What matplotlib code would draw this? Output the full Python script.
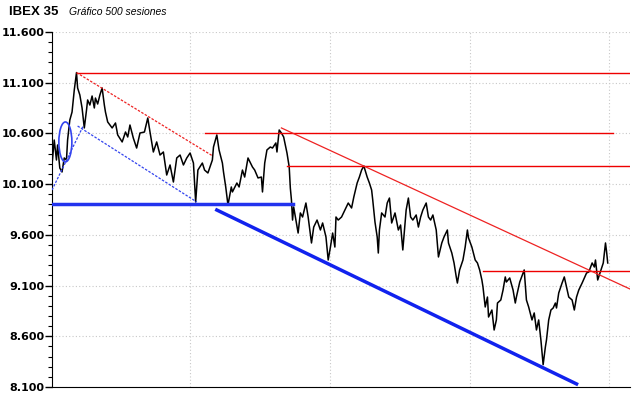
import matplotlib
matplotlib.use("Agg")
import matplotlib.pyplot as plt
from matplotlib.patches import Ellipse
from matplotlib.ticker import MultipleLocator, FuncFormatter

# ---- data ----
sessions = [0,2,4,5,7,9,11,13,14,16,18,20,22,23,25,27,29,31,32,34,36,38,39,41,43,45,47,48,50,54,
            57,59,63,66,68,70,73,76,79,83,86,88,91,94,97,100,103,106,109,112,115,118,121,124,127,129,131,135,137,140,
            144,145,148,150,153,154,156,158,161,162,166,168,171,173,176,180,182,185,188,189,191,193,196,198,201,202,204,206,208,211,
            213,214,215,216,217,219,221,223,225,228,230,233,235,238,241,243,246,248,250,252,254,255,257,260,263,266,269,271,274,276,
            278,280,283,285,287,288,290,292,293,294,296,299,301,303,305,308,311,313,315,318,320,322,324,327,329,331,333,336,338,340,
            342,345,346,347,350,352,355,356,359,361,363,364,366,369,371,373,374,377,380,382,384,386,387,389,391,392,395,397,399,400,
            403,405,407,408,411,414,416,417,420,423,424,426,428,431,433,435,437,439,441,443,444,446,448,450,452,453,455,458,460,462,
            464,467,469,471,473,476,478,480,482,485,487,488,490,493,495,496,497,498,499]
closes = [10289,10535,10338,10486,10259,10220,10358,10338,10535,10732,10811,11028,11200,11048,10979,10851,10654,10831,10930,10880,
          10969,10851,10949,10890,10979,11048,10880,10811,10713,10654,10703,10585,10516,10614,10565,10683,10555,10456,10604,10614,
          10752,10614,10417,10516,10387,10417,10190,10289,10121,10358,10387,10289,10358,10407,10308,9924,10239,10308,10239,10210,
          10338,10466,10585,10437,10308,10220,10072,9894,10072,10023,10111,10072,10239,10170,10358,10269,10239,10161,10170,10023,
          10308,10437,10466,10456,10506,10417,10634,10604,10565,10407,10269,10062,9944,9746,9875,9746,9618,9816,9776,9914,
          9776,9520,9677,9746,9648,9717,9579,9352,9480,9618,9480,9776,9746,9776,9845,9914,9865,9973,10111,10170,
          10239,10279,10170,10111,10042,9944,9727,9579,9421,9648,9816,9776,9914,9963,9717,9816,9648,9697,9451,9845,
          9963,9776,9746,9796,9677,9776,9845,9914,9776,9746,9796,9648,9520,9382,9520,9579,9648,9520,9421,9323,
          9185,9125,9254,9352,9480,9648,9569,9480,9352,9323,9254,9155,9086,8889,8987,8790,8859,8662,8761,8928,
          8958,9056,9185,9135,9175,9056,8928,8987,9135,9224,9254,8958,8889,8761,8830,8662,8761,8563,8320,8494,
          8563,8761,8859,8879,8928,8879,9027,9125,9185,9086,8987,8958,8859,8987,9056,9125,9175,9224,9234,9323,
          9283,9352,9155,9254,9323,9421,9520,9431,9323]

y_ticks = [8100, 8600, 9100, 9600, 10100, 10600, 11100, 11600]
x_grid = [124, 249.5, 375, 500]

# support / resistance levels
red_levels = [(22, 519, 11200), (137, 504, 10600), (211, 519, 10280), (387, 519, 9245)]
red_trend = ([206, 519], [10654, 9066])
red_dash = ([22, 144], [11200, 10380])
blue_level = ([0, 216], [9900, 9900])
blue_trend = ([148, 471], [9845, 8130])
blue_dash1 = ([0, 28], [10042, 10673])
blue_dash2 = ([23, 130], [10673, 9924])

fig = plt.figure(figsize=(6.4, 3.98), dpi=100)
ax = fig.add_axes([52/640, 11/398, 578/640, 355/398])

ax.set_xlim(0, 519)
ax.set_ylim(8100, 11600)

ax.set_yticks(y_ticks)
ax.yaxis.set_minor_locator(MultipleLocator(100))
ax.yaxis.set_major_formatter(FuncFormatter(lambda v, p: f"{int(v):,}".replace(",", ".")))
ax.set_xticks(x_grid)
ax.set_xticklabels([])
ax.tick_params(axis='x', length=0)
ax.tick_params(axis='y', which='major', length=5, width=1, pad=0.5, labelsize=8)
ax.tick_params(axis='y', which='minor', length=3, width=0.8)
for lab in ax.get_yticklabels():
    lab.set_fontweight('bold')
    lab.set_family('DejaVu Sans')

ax.grid(True, which='major', color='#c8c8c8', linestyle=(0, (1, 2)), linewidth=0.8)
for s in ['top', 'right']:
    ax.spines[s].set_visible(False)

# price
ax.plot(sessions, closes, color='black', linewidth=1.1, zorder=3)

# lines
for x0, x1, lvl in red_levels:
    ax.plot([x0, x1], [lvl, lvl], color='#ee0000', linewidth=1.0, zorder=4)
ax.plot(*red_trend, color='#ee2222', linewidth=0.9, zorder=4)
ax.plot(*red_dash, color='#ee2222', linewidth=0.9, linestyle=(0, (2, 1.2)), zorder=4)
ax.plot(*blue_level, color='#2233ee', linewidth=2.5, zorder=4)
ax.plot(*blue_trend, color='#1122ee', linewidth=2.5, zorder=4)
ax.plot(*blue_dash1, color='#3344ee', linewidth=0.9, linestyle=(0, (2, 1.2)), zorder=4)
ax.plot(*blue_dash2, color='#3344ee', linewidth=0.9, linestyle=(0, (2, 1.2)), zorder=4)
ax.add_patch(Ellipse((12, 10516), 11.7, 394, fill=False, edgecolor='#3344ee', linewidth=1.2, zorder=4))

fig.text(9/640, 1 - 12/398, "IBEX 35", fontsize=9.5, fontweight='bold', family='Liberation Sans',
         va='center', ha='left')
fig.text(69/640, 1 - 12/398, "Gráfico 500 sesiones", fontsize=7.5, fontstyle='italic', family='Liberation Sans',
         va='center', ha='left')

fig.savefig("out.png", dpi=100)
